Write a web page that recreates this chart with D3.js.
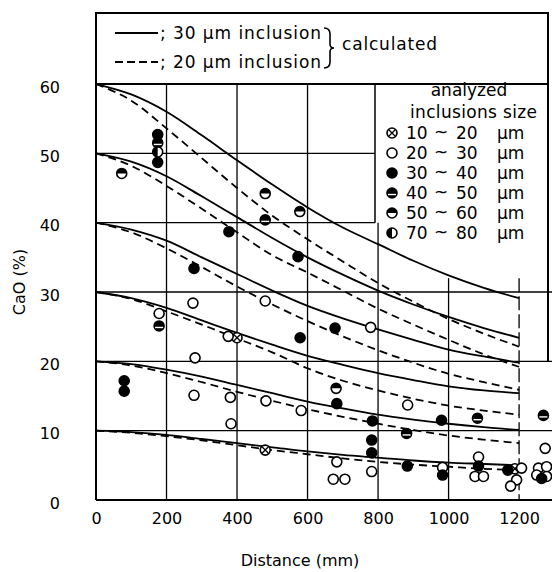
<!DOCTYPE html>
<html>
<head>
<meta charset="utf-8">
<script src="https://cdn.jsdelivr.net/npm/d3@7"></script>
<style>
  body { margin: 0; background: #fff; }
  svg { display: block; }
  text { font-family: "DejaVu Sans", sans-serif; fill: #000; }
</style>
</head>
<body>
<script>
// tick labels
var distTicks = [0, 200, 400, 600, 800, 1000, 1200];
var caoTicks = [0, 10, 20, 30, 40, 50, 60];

// calculated curves, read at every 100 mm
var curveX = [0, 100, 200, 300, 400, 500, 600, 700, 800, 900, 1000, 1100, 1200];
var solid30 = [
  [60, 58.5, 56.0, 52.6, 49.0, 45.5, 42.2, 39.3, 36.9, 34.5, 32.4, 30.6, 29.1],
  [50, 48.8, 46.7, 43.8, 40.8, 37.8, 35.0, 32.5, 30.2, 28.2, 26.4, 24.8, 23.4],
  [40, 39.0, 37.4, 35.0, 32.6, 30.2, 28.0, 26.2, 24.6, 23.1, 21.7, 20.7, 19.8],
  [30, 29.1, 27.7, 25.9, 24.1, 22.4, 20.8, 19.5, 18.3, 17.3, 16.4, 15.8, 15.4],
  [20, 19.6, 18.8, 17.8, 16.6, 15.4, 14.2, 13.2, 12.3, 11.6, 11.0, 10.5, 10.1],
  [10, 9.8, 9.4, 8.8, 8.2, 7.6, 7.0, 6.5, 6.1, 5.7, 5.4, 5.2, 5.0]
];
var dashed20 = [
  [60, 57.6, 53.6, 49.3, 45.0, 41.0, 37.6, 34.4, 31.3, 28.6, 26.1, 24.0, 22.1],
  [50, 48.2, 45.3, 42.0, 38.6, 35.3, 32.8, 30.2, 27.6, 25.3, 23.1, 21.0, 19.2],
  [40, 38.6, 36.3, 33.6, 30.8, 28.2, 25.8, 23.6, 21.6, 19.8, 18.2, 17.0, 15.9],
  [30, 29.0, 27.2, 25.3, 23.3, 21.3, 19.0, 17.2, 15.8, 14.6, 13.6, 12.9, 12.3],
  [20, 19.4, 18.3, 17.0, 15.6, 14.3, 13.1, 12.0, 11.0, 10.1, 9.3, 8.7, 8.2],
  [10, 9.7, 9.2, 8.6, 7.9, 7.2, 6.6, 6.0, 5.5, 5.1, 4.8, 4.5, 4.3]
];

// analyzed points [distance mm, CaO %]
var pts10to20 = [[400, 23.4], [480, 7.2], [1188, 4.5]];
var pts20to30 = [[275, 28.4], [480, 28.7], [179, 26.9], [375, 23.6], [281, 20.5],
  [278, 15.1], [381, 14.8], [482, 14.3], [582, 12.9], [383, 11.0], [779, 24.9],
  [884, 13.7], [683, 5.5], [673, 3.0], [706, 3.0], [782, 4.1], [983, 4.7],
  [1085, 6.2], [1075, 3.4], [1099, 3.4], [1207, 4.6], [1193, 2.9], [1176, 2.0],
  [1274, 7.45], [1255, 4.6], [1278, 4.8], [1250, 3.6], [1278, 3.4]];
var pts30to40 = [[175, 52.7], [175, 48.7], [377, 38.7], [573, 35.1], [278, 33.4],
  [579, 23.4], [80, 17.2], [80, 15.7], [678, 24.8], [683, 13.9], [784, 11.4],
  [980, 11.5], [782, 8.65], [782, 6.8], [883, 4.9], [983, 3.6], [1085, 4.9],
  [1168, 4.3], [1264, 3.1]];
var pts40to50 = [[175, 51.5], [480, 40.4], [179, 25.1], [1082, 11.8], [881, 9.6], [1269, 12.2]];
var pts50to60 = [[73, 47.1], [480, 44.2], [578, 41.6], [681, 16.1]];
var pts70to80 = [[175, 50.2]];

var sizeLabels = [["10", "20"], ["20", "30"], ["30", "40"], ["40", "50"], ["50", "60"], ["70", "80"]];
var sizeKinds = ["cross", "open", "filled", "band", "tophalf", "lefthalf"];

var W = 552, H = 572;
var svg = d3.select("body").append("svg").attr("width", W).attr("height", H);

var x = d3.scaleLinear().domain([0, 1282]).range([96, 548]);
var y = d3.scaleLinear().domain([0, 60]).range([500, 84]);

var ink = "#000";

// grid
var grid = svg.append("g").attr("stroke", ink).attr("stroke-width", 1.3);
[10, 20, 30].forEach(function(v) {
  grid.append("line").attr("x1", x(0)).attr("x2", W).attr("y1", y(v)).attr("y2", y(v));
});
[40, 50].forEach(function(v) {
  grid.append("line").attr("x1", x(0)).attr("x2", 375).attr("y1", y(v)).attr("y2", y(v));
});
[200, 400, 600, 800].forEach(function(v) {
  grid.append("line").attr("x1", x(v)).attr("x2", x(v)).attr("y1", y(v == 800 ? 40 : 60)).attr("y2", y(0));
});
[1000, 1200].forEach(function(v) {
  grid.append("line").attr("x1", x(v)).attr("x2", x(v)).attr("y1", y(32)).attr("y2", y(0))
    .attr("stroke-dasharray", v == 1200 ? "14,4" : null);
});

// frame
var frame = svg.append("g").attr("stroke", ink).attr("stroke-width", 2).attr("fill", "none");
frame.append("path").attr("d", "M96,500 V13 H548 V362");
frame.append("line").attr("x1", 96).attr("x2", W).attr("y1", y(0)).attr("y2", y(0));
frame.append("line").attr("x1", 96).attr("x2", 548).attr("y1", y(60)).attr("y2", y(60));
frame.append("line").attr("x1", 375).attr("x2", 375).attr("y1", y(60)).attr("y2", y(40)).attr("stroke-width", 1.5);

// curves
var line = d3.line()
  .x(function(d, i) { return x(curveX[i]); })
  .y(function(d) { return y(d); })
  .curve(d3.curveMonotoneX);

svg.append("g").selectAll("path").data(solid30).enter().append("path")
  .attr("d", line).attr("fill", "none").attr("stroke", ink).attr("stroke-width", 1.8);
svg.append("g").selectAll("path").data(dashed20).enter().append("path")
  .attr("d", line).attr("fill", "none").attr("stroke", ink).attr("stroke-width", 1.8)
  .attr("stroke-dasharray", "8,5");

// point symbols
var r = 5;
function drawMark(g, kind, cx, cy) {
  var m = g.append("g").attr("transform", "translate(" + cx + "," + cy + ")");
  m.append("circle").attr("r", r).attr("fill", kind == "filled" || kind == "band" ? ink : "#fff")
    .attr("stroke", ink).attr("stroke-width", 1.6);
  if (kind == "cross") {
    m.append("path").attr("d", "M-3,-3L3,3M-3,3L3,-3").attr("stroke", ink).attr("stroke-width", 1.3);
  } else if (kind == "band") {
    m.append("line").attr("x1", -r + 1).attr("x2", r - 1).attr("y1", 1.5).attr("y2", 1.5)
      .attr("stroke", "#fff").attr("stroke-width", 1.4);
  } else if (kind == "tophalf") {
    m.append("path").attr("d", "M-" + r + ",0A" + r + "," + r + " 0 0 1 " + r + ",0Z").attr("fill", ink);
  } else if (kind == "lefthalf") {
    m.append("path").attr("d", "M0,-" + r + "A" + r + "," + r + " 0 0 0 0," + r + "Z").attr("fill", ink);
  }
}

var marks = svg.append("g");
[pts10to20, pts20to30, pts30to40, pts40to50, pts50to60, pts70to80].forEach(function(set, k) {
  set.forEach(function(p) { drawMark(marks, sizeKinds[k], x(p[0]), y(p[1])); });
});

// axes labels
var yAxis = d3.axisLeft(y).tickValues(caoTicks).tickSize(0).tickPadding(0);
var gy = svg.append("g").attr("transform", "translate(60,3)").call(yAxis);
gy.select(".domain").remove();
gy.selectAll("text").style("font-size", "16px").style("font-family", "DejaVu Sans");

var xAxis = d3.axisBottom(x).tickValues(distTicks).tickFormat(d3.format("d")).tickSize(0).tickPadding(0);
var gx = svg.append("g").attr("transform", "translate(0,513)").call(xAxis);
gx.select(".domain").remove();
gx.selectAll("text").style("font-size", "16px").style("font-family", "DejaVu Sans");

svg.append("text").attr("x", 300).attr("y", 566).attr("text-anchor", "middle")
  .style("font-size", "16px").text("Distance (mm)");
svg.append("text").attr("transform", "translate(25,282) rotate(-90)").attr("text-anchor", "middle")
  .style("font-size", "16px").text("CaO (%)");

// calculated legend
var calcLeg = svg.append("g");
calcLeg.append("line").attr("x1", 115).attr("x2", 158).attr("y1", 33).attr("y2", 33)
  .attr("stroke", ink).attr("stroke-width", 1.8);
calcLeg.append("line").attr("x1", 115).attr("x2", 158).attr("y1", 62).attr("y2", 62)
  .attr("stroke", ink).attr("stroke-width", 1.8).attr("stroke-dasharray", "8,4");
calcLeg.append("text").attr("x", 160).attr("y", 39).attr("textLength", 161).attr("lengthAdjust", "spacing")
  .style("font-size", "17px").text("; 30 \u03bcm inclusion");
calcLeg.append("text").attr("x", 160).attr("y", 68).attr("textLength", 161).attr("lengthAdjust", "spacing")
  .style("font-size", "17px").text("; 20 \u03bcm inclusion");
calcLeg.append("path").attr("d", "M324,28 Q330,28 330,34 V44 Q330,48 334,48 Q330,48 330,52 V62 Q330,68 324,68")
  .attr("fill", "none").attr("stroke", ink).attr("stroke-width", 1.6);
calcLeg.append("text").attr("x", 342).attr("y", 50).attr("textLength", 95).attr("lengthAdjust", "spacing")
  .style("font-size", "17px").text("calculated");

// analyzed legend
var leg = svg.append("g");
leg.append("text").attr("x", 469).attr("y", 96).attr("text-anchor", "middle")
  .style("font-size", "17px").text("analyzed");
leg.append("text").attr("x", 410).attr("y", 118).attr("textLength", 127).attr("lengthAdjust", "spacing")
  .style("font-size", "17px").text("inclusions size");
var rowY = d3.scaleLinear().domain([0, 5]).range([133, 233]);
sizeLabels.forEach(function(s, i) {
  var cy = rowY(i);
  drawMark(leg, sizeKinds[i], 392, cy);
  leg.append("text").attr("x", 406).attr("y", cy + 6).style("font-size", "17px").text(s[0]);
  leg.append("text").attr("x", 434).attr("y", cy + 5).style("font-size", "17px").text("~");
  leg.append("text").attr("x", 456).attr("y", cy + 6).style("font-size", "17px").text(s[1]);
  leg.append("text").attr("x", 497).attr("y", cy + 6).style("font-size", "17px").text("\u03bcm");
});
</script>
</body>
</html>
